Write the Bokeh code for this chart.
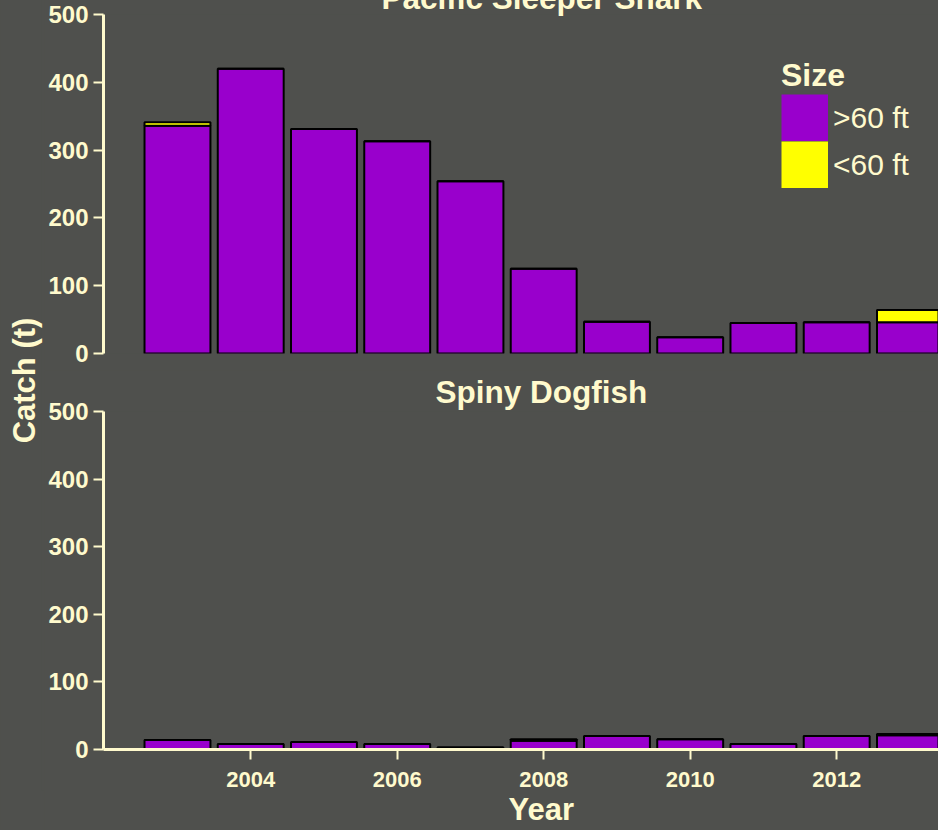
from bokeh.plotting import figure
from bokeh.models import ColumnDataSource, Legend, LegendItem, Range1d, FixedTicker, Title
from bokeh.layouts import row, column
from bokeh.embed import file_html
from bokeh.resources import INLINE

# ---------------- data ----------------
years = [2003, 2004, 2005, 2006, 2007, 2008, 2009, 2010, 2011, 2012, 2013]
sleeper_over60 = [336, 420, 331, 313, 254, 125, 47, 24, 45, 46, 46]
sleeper_under60 = [5, 0, 0, 0, 0, 0, 0, 0, 0, 0, 18]
dogfish_over60 = [14, 8, 11, 8, 3, 13, 20, 15, 8, 20, 21]
dogfish_under60 = [0, 0, 0, 0, 0, 2, 0, 0, 0, 0, 2]
size_labels = [">60 ft", "<60 ft"]
panel_titles = ["Pacific Sleeper Shark", "Spiny Dogfish"]
y_ticks = [0, 100, 200, 300, 400, 500]
x_ticks = [2004, 2006, 2008, 2010, 2012]

# ---------------- style ----------------
BG = "#4f504d"
CREAM = "#FFFACD"
PURPLE = "#9900CC"
YELLOW = "#FFFF00"
FONT = "Liberation Sans"
SHIFT = 30            # page is scrolled up by this much (top title is cut, as in the reference)
STRIP_W = 44
FIG_W = 938 - STRIP_W
X_RANGE = (2001.99, 2013.39)
Y_RANGE = (0, 500)
BAR_W = 0.9


def text_style(t, size="31px"):
    t.text_color = CREAM
    t.text_font = FONT
    t.text_font_style = "bold"
    t.text_font_size = size


def style_title(p, text, offset, standoff):
    p.title.text = text
    p.title.align = "left"
    p.title.offset = offset
    p.title.standoff = standoff
    text_style(p.title, "31.5px")


def base_fig(height, top, bottom):
    p = figure(width=FIG_W, height=height, output_backend="svg", toolbar_location=None,
               x_range=Range1d(*X_RANGE), y_range=Range1d(*Y_RANGE),
               min_border_left=103 - STRIP_W, min_border_right=0,
               min_border_top=top, min_border_bottom=bottom)
    p.background_fill_color = BG
    p.border_fill_color = BG
    p.outline_line_color = None
    p.grid.visible = False
    ax = p.yaxis[0]
    ax.ticker = FixedTicker(ticks=y_ticks)
    ax.axis_line_color = CREAM
    ax.axis_line_width = 3
    ax.major_tick_line_color = CREAM
    ax.major_tick_line_width = 2
    ax.major_tick_out = 10
    ax.major_tick_in = 0
    ax.minor_tick_line_color = None
    ax.major_label_text_color = CREAM
    ax.major_label_text_font = FONT
    ax.major_label_text_font_style = "bold"
    ax.major_label_text_font_size = "24px"
    ax.major_label_standoff = 5
    return p


def add_bars(p, over, under):
    src = ColumnDataSource(dict(year=years, over=over, under=under))
    p.vbar_stack(["over", "under"], x="year", width=BAR_W, source=src,
                 fill_color=[PURPLE, YELLOW], line_color="black", line_width=2)
    return src


# ---------------- top panel ----------------
top = base_fig(339 + 14 + SHIFT + 17, 14 + SHIFT, 17)
top.xaxis.visible = False
src_top = add_bars(top, sleeper_over60, sleeper_under60)
style_title(top, panel_titles[0], 278, -2)

# legend swatches: hidden thick-line renderers give full, edge-to-edge colour blocks
r_over = top.line(x="year", y="over", source=src_top, line_color=PURPLE, line_width=47,
                  visible=False)
r_under = top.line(x="year", y="under", source=src_top, line_color=YELLOW, line_width=47,
                   visible=False)
legend = Legend(items=[LegendItem(label=size_labels[0], renderers=[r_over]),
                       LegendItem(label=size_labels[1], renderers=[r_under])],
                location=(678, 165), title="Size",
                glyph_width=47, glyph_height=47, spacing=0, label_standoff=5,
                padding=0, margin=0, border_line_color=None, background_fill_alpha=0,
                label_text_color=CREAM, label_text_font=FONT, label_text_font_size="30px",
                title_text_color=CREAM, title_text_font=FONT, title_text_font_style="bold",
                title_text_font_size="32px", title_standoff=-10)
top.add_layout(legend)

# ---------------- bottom panel ----------------
bottom = base_fig(40 + 339 + 85, 40, 85)
add_bars(bottom, dogfish_over60, dogfish_under60)
style_title(bottom, panel_titles[1], 332, 3)
xa = bottom.xaxis[0]
xa.ticker = FixedTicker(ticks=x_ticks)
xa.axis_line_color = CREAM
xa.axis_line_width = 3
xa.major_tick_line_color = CREAM
xa.major_tick_line_width = 2
xa.major_tick_out = 10
xa.major_tick_in = 0
xa.minor_tick_line_color = None
xa.major_label_text_color = CREAM
xa.major_label_text_font = FONT
xa.major_label_text_font_style = "bold"
xa.major_label_text_font_size = "22px"
xa.major_label_standoff = 12

year_title = Title(text="Year", align="left", offset=405, standoff=0)
text_style(year_title)
bottom.add_layout(year_title, "below")

# ---------------- left strip with the shared y label ----------------
strip_h = top.height + bottom.height
label_center = SHIFT + 380
strip = figure(width=STRIP_W, height=strip_h, output_backend="svg", toolbar_location=None,
               x_range=Range1d(0, 1), y_range=Range1d(0, 1),
               x_axis_type=None, y_axis_type=None, title="Catch (t)", title_location="left",
               min_border_left=41, min_border_right=0, min_border_top=0,
               min_border_bottom=strip_h - 2 * label_center)
strip.background_fill_color = BG
strip.border_fill_color = BG
strip.outline_line_color = None
strip.grid.visible = False
strip.title.align = "center"
strip.title.standoff = 0
text_style(strip.title)

layout = row(strip, column(top, bottom))

html = file_html(layout, INLINE, title="Catch by size")
html = html.replace("</head>",
                    "<style>html{overflow:hidden !important;}"
                    "html,body{padding:0 !important;height:auto !important;background:%s !important;}"
                    "body{margin:-%dpx 0 0 0 !important;overflow:visible !important;}</style></head>"
                    % (BG, SHIFT))
open("out.html", "w").write(html)
